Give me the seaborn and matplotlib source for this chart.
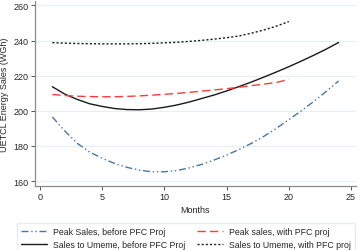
import matplotlib
matplotlib.use("Agg")
import matplotlib.pyplot as plt
import numpy as np
import pandas as pd
import seaborn as sns

# Values
months_long = list(range(1, 25))
months_short = list(range(1, 21))

peak_before = [196.5, 188.5, 181.5, 176.5, 173.0, 170.0, 167.8, 166.2, 165.3, 165.3,
               166.0, 167.5, 169.5, 172.0, 174.8, 178.0, 181.5, 185.5, 190.0, 195.0,
               200.0, 205.3, 211.0, 217.0]
umeme_before = [213.7, 209.5, 206.5, 204.0, 202.5, 201.3, 200.7, 200.6, 201.0, 202.0,
                203.3, 205.0, 207.0, 209.0, 211.3, 213.8, 216.4, 219.2, 222.1, 225.1,
                228.3, 231.6, 235.1, 238.9]
peak_with = [209.3, 208.7, 208.3, 208.1, 208.0, 208.0, 208.2, 208.5, 208.9, 209.4,
             209.9, 210.5, 211.2, 211.9, 212.6, 213.4, 214.3, 215.2, 216.1, 217.9]
umeme_with = [238.8, 238.5, 238.3, 238.2, 238.1, 238.1, 238.1, 238.2, 238.4, 238.7,
              239.0, 239.5, 240.1, 240.8, 241.6, 242.6, 244.2, 246.0, 248.2, 250.8]

sns.set_theme(style="white")
plt.rcParams["font.family"] = ["Liberation Sans", "DejaVu Sans"]

fig = plt.figure(figsize=(3.6, 2.51), dpi=100)
ax = fig.add_axes([0.097, 0.255, 0.892, 0.737])

blue = "#4a76a3"
red = "#ff3b3b"

sns.lineplot(x=months_long, y=peak_before, ax=ax, color=blue, lw=1.0,
             label="Peak Sales, before PFC Proj")
sns.lineplot(x=months_long, y=umeme_before, ax=ax, color="#1a1a1a", lw=1.0,
             label="Sales to Umeme, before PFC Proj")
sns.lineplot(x=months_short, y=peak_with, ax=ax, color=red, lw=1.0,
             label="Peak sales, with PFC proj")
sns.lineplot(x=months_short, y=umeme_with, ax=ax, color="#1a1a1a", lw=1.0,
             label="Sales to Umeme, with PFC proj")
lines = ax.get_lines()
lines[0].set_dashes((5, 2, 1, 2, 1, 2))
lines[2].set_dashes((6, 3))
lines[3].set_dashes((1.5, 1.5))

ax.set_xlim(-0.4, 25.4)
ax.set_ylim(157.2, 262.5)
ax.set_xticks([0, 5, 10, 15, 20, 25])
ax.set_yticks([160, 180, 200, 220, 240, 260])
ax.yaxis.grid(True, color="#e6eff1", lw=0.8)
ax.xaxis.grid(False)
for s in ["top", "right"]:
    ax.spines[s].set_visible(False)
for s in ["left", "bottom"]:
    ax.spines[s].set_color("#8a8a8a")
    ax.spines[s].set_linewidth(0.9)
ax.tick_params(axis="both", which="both", length=3, width=0.7, color="#555555",
               labelsize=6.5, pad=1.5, left=True, bottom=True)
ax.set_xlabel("Months", fontsize=6.5, labelpad=3)
ax.set_ylabel("UETCL Energy Sales (WGh)", fontsize=6.5, labelpad=3)

ax.get_legend().remove()
handles = lines
labels = [h.get_label() for h in handles]
fig.legend(handles, labels, ncol=2, loc="upper left", bbox_to_anchor=(0.036, 0.124),
           fontsize=6.3, frameon=True, edgecolor="#e4e8ea", fancybox=False,
           handlelength=2.9, columnspacing=1.4, labelspacing=0.4, borderpad=0.45,
           handletextpad=0.7)

fig.savefig("out.png", dpi=100)
